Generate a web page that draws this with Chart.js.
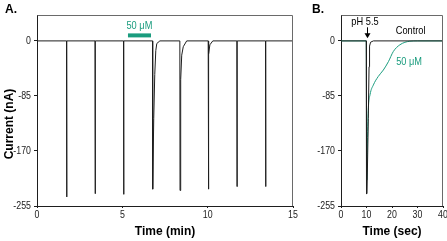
<!DOCTYPE html>
<html>
<head>
<meta charset="utf-8">
<script src="https://cdn.jsdelivr.net/npm/chart.js@4/dist/chart.umd.min.js"></script>
<style>
html, body { margin: 0; padding: 0; background: #fff; }
#wrap { position: relative; width: 447px; height: 241px; overflow: hidden; }
#chartA { position: absolute; left: 0; top: 0; }
#chartB { position: absolute; left: 300px; top: 0; }
</style>
</head>
<body>
<div id="wrap">
  <canvas id="chartA" width="300" height="241" style="width:300px;height:241px"></canvas>
  <canvas id="chartB" width="147" height="241" style="width:147px;height:241px"></canvas>
</div>
<script>
// panel A: whole recording, time in minutes, current in nA
var traceATime = [0, 1.73, 1.74, 1.75, 3.40, 3.41, 3.42, 5.07, 5.08, 5.09,
  6.77, 6.78, 6.84, 6.90, 6.96, 7.02, 7.20,
  8.37, 8.38, 8.42, 8.48, 8.57, 8.77,
  10.03, 10.04, 10.07, 10.13, 10.30,
  11.71, 11.72, 11.73, 13.39, 13.40, 13.41, 15];
var traceACurrent = [0, 0, -241, 0, 0, -236, 0, 0, -237, 0,
  0, -229, -120, -52, -15, -4, 0,
  0, -231, -60, -22, -9, 0,
  0, -229, -20, -6, 0,
  0, -225, 0, 0, -225, 0, 0];
// drug application bar (50 uM)
var drugBarTime = [5.33, 6.68];
var drugBarLevel = [8.5, 8.5];

// panel B: single responses, time in seconds
var controlTime = [0, 9.9, 10.0, 10.2, 10.7, 11.0, 11.2, 11.6, 12.7, 40];
var controlCurrent = [0, 0, -236, -236, -120, -40, -8, -2, 0, 0];
var drugTime = [0, 9.9, 10.05, 10.15, 10.3, 10.7, 11.4, 12.7, 14.6, 16.6, 18.6, 20.5, 23.1, 27, 30, 40];
var drugCurrent = [0, 0, -150, -215, -170, -107, -83, -68, -55, -45, -32, -16.5, -6, -0.5, 0, 0];

var yTicks = [-255, -170, -85, 0];
var xTicksA = [0, 5, 10, 15];
var xTicksB = [0, 10, 20, 30, 40];

var teal = '#1a9c7e';
var ink = '#1e1e1e';
var sans = '"Liberation Sans", Arial, sans-serif';

function pts(xs, ys) {
  return xs.map(function (x, i) { return { x: x, y: ys[i] }; });
}

// condensed look: squeeze regular text horizontally
function narrowText(ctx, text, x, y, align, size) {
  ctx.save();
  ctx.font = size + 'px ' + sans;
  ctx.textAlign = align;
  ctx.translate(x, y);
  ctx.scale(0.84, 1);
  ctx.fillText(text, 0, 0);
  ctx.restore();
}

function makeOptions(xMin, xMax, xTicks, xTitle, yWidth, padRight) {
  return {
    responsive: false,
    animation: false,
    layout: { padding: { top: 15, right: padRight, bottom: 0, left: 0 } },
    plugins: { legend: { display: false }, tooltip: { enabled: false } },
    elements: { point: { radius: 0 }, line: { tension: 0 } },
    scales: {
      x: {
        type: 'linear', min: xMin, max: xMax,
        afterBuildTicks: function (s) { s.ticks = xTicks.map(function (v) { return { value: v }; }); },
        afterFit: function (s) { s.height = 35; },
        grid: { drawOnChartArea: false, tickLength: 2, color: ink },
        border: { color: ink, width: 1 },
        ticks: { display: false },
        title: { display: true, text: xTitle, color: '#000', padding: { top: 0, bottom: 2 },
          font: { family: sans, size: 12, weight: 'bold' } }
      },
      y: {
        type: 'linear', min: -255, max: 40,
        afterBuildTicks: function (s) { s.ticks = yTicks.map(function (v) { return { value: v }; }); },
        afterFit: function (s) { s.width = yWidth; },
        grid: { drawOnChartArea: false, tickLength: 3, color: ink },
        border: { color: ink, width: 1 },
        ticks: { display: false }
      }
    }
  };
}

// frame on top/right, tick labels and text notes
function notesPlugin(xTicks, draw) {
  return {
    id: 'notes',
    afterDraw: function (chart) {
      var ctx = chart.ctx, a = chart.chartArea;
      var x = chart.scales.x, y = chart.scales.y;
      ctx.save();
      ctx.strokeStyle = '#6a6a6a';
      ctx.lineWidth = 1;
      ctx.beginPath();
      ctx.moveTo(Math.round(a.left) + 0.5, Math.round(a.top) + 0.5);
      ctx.lineTo(Math.round(a.right) - 0.5, Math.round(a.top) + 0.5);
      ctx.lineTo(Math.round(a.right) - 0.5, Math.round(a.bottom));
      ctx.stroke();

      ctx.fillStyle = '#222';
      ctx.textBaseline = 'middle';
      yTicks.forEach(function (v) {
        narrowText(ctx, String(v), a.left - 6, y.getPixelForValue(v), 'right', 10.5);
      });
      ctx.textBaseline = 'top';
      xTicks.forEach(function (v) {
        narrowText(ctx, String(v), x.getPixelForValue(v), a.bottom + 4, 'center', 10.5);
      });
      draw(ctx, x, y);
      ctx.restore();
    }
  };
}

new Chart(document.getElementById('chartA'), {
  type: 'line',
  data: {
    datasets: [
      { data: pts(traceATime, traceACurrent), borderColor: ink, borderWidth: 1 },
      { data: pts(drugBarTime, drugBarLevel), borderColor: teal, borderWidth: 4, borderCapStyle: 'butt' }
    ]
  },
  options: makeOptions(0, 15, xTicksA, 'Time (min)', 37, 7),
  plugins: [notesPlugin(xTicksA, function (ctx, x, y) {
    ctx.fillStyle = '#000';
    ctx.font = 'bold 12px ' + sans;
    ctx.textAlign = 'left';
    ctx.textBaseline = 'alphabetic';
    ctx.fillText('A.', 5, 13);
    ctx.save();
    ctx.translate(10, 124);
    ctx.rotate(-Math.PI / 2);
    ctx.textAlign = 'center';
    ctx.textBaseline = 'middle';
    ctx.fillText('Current (nA)', 0, 0);
    ctx.restore();
    ctx.fillStyle = teal;
    ctx.textBaseline = 'middle';
    narrowText(ctx, '50 μM', x.getPixelForValue(6.0), y.getPixelForValue(23), 'center', 11);
  })]
});

new Chart(document.getElementById('chartB'), {
  type: 'line',
  data: {
    datasets: [
      { data: pts(controlTime, controlCurrent), borderColor: ink, borderWidth: 1 },
      { data: pts(drugTime, drugCurrent), borderColor: teal, borderWidth: 1, cubicInterpolationMode: 'monotone' }
    ]
  },
  options: makeOptions(0, 40, xTicksB, 'Time (sec)', 41, 4),
  plugins: [notesPlugin(xTicksB, function (ctx, x, y) {
    ctx.fillStyle = '#000';
    ctx.font = 'bold 12px ' + sans;
    ctx.textAlign = 'left';
    ctx.textBaseline = 'alphabetic';
    ctx.fillText('B.', 12, 13);
    ctx.textBaseline = 'middle';
    narrowText(ctx, 'pH 5.5', x.getPixelForValue(9.4), y.getPixelForValue(29), 'center', 11);
    narrowText(ctx, 'Control', x.getPixelForValue(27.3), y.getPixelForValue(15.5), 'center', 11);
    // arrow marking the pH step
    var ax = Math.round(x.getPixelForValue(10)) + 0.5;
    var y1 = y.getPixelForValue(21), y2 = y.getPixelForValue(4);
    ctx.strokeStyle = '#000';
    ctx.lineWidth = 1;
    ctx.beginPath();
    ctx.moveTo(ax, y1);
    ctx.lineTo(ax, y2 - 3);
    ctx.stroke();
    ctx.beginPath();
    ctx.moveTo(ax - 3, y2 - 5);
    ctx.lineTo(ax + 3, y2 - 5);
    ctx.lineTo(ax, y2);
    ctx.closePath();
    ctx.fill();
    ctx.fillStyle = teal;
    narrowText(ctx, '50 μM', x.getPixelForValue(26.7), y.getPixelForValue(-32), 'center', 11);
  })]
});
</script>
</body>
</html>
